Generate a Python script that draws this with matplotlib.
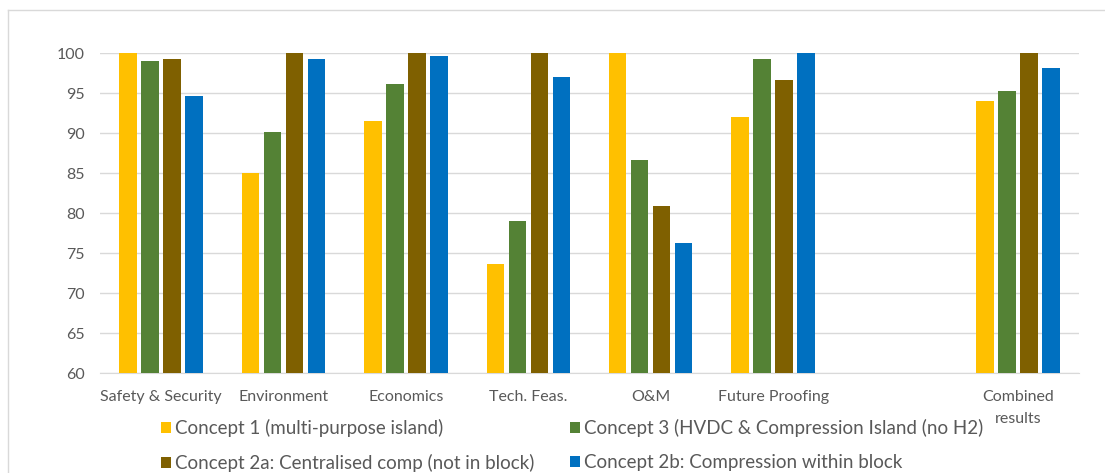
import matplotlib
matplotlib.use("Agg")
import matplotlib.pyplot as plt
import numpy as np

categories = ["Safety & Security", "Environment", "Economics", "Tech. Feas.",
              "O&M", "Future Proofing", "", "Combined\nresults"]

series_names = [
    "Concept 1 (multi-purpose island)",
    "Concept 3 (HVDC & Compression Island (no H2)",
    "Concept 2a: Centralised comp (not in block)",
    "Concept 2b: Compression within block",
]

concept1 = [100.0, 85.0, 91.5, 73.6, 100.0, 92.0, np.nan, 94.0]
concept3 = [99.0, 90.1, 96.1, 79.0, 86.6, 99.3, np.nan, 95.3]
concept2a = [99.3, 100.0, 100.0, 100.0, 80.9, 96.6, np.nan, 100.0]
concept2b = [94.6, 99.2, 99.6, 97.0, 76.3, 100.0, np.nan, 98.1]

colors = ["#FFC000", "#548235", "#7F6000", "#0070C0"]
yticks = [60, 65, 70, 75, 80, 85, 90, 95, 100]

plt.rcParams["font.family"] = ["Lato", "DejaVu Sans"]
text_gray = "#595959"
grid_gray = "#D9D9D9"

W, H = 1105, 473
fig = plt.figure(figsize=(W / 100, H / 100), dpi=100)
ax = fig.add_axes([100 / W, 1 - 373 / H, (1079 - 100) / W, (373 - 53) / H])

x = np.arange(len(categories))
step = 0.18
width = 0.143
offsets = (np.arange(4) - 1.5) * step
series = [concept1, concept3, concept2a, concept2b]
handles = []
for vals, off, col, name in zip(series, offsets, colors, series_names):
    v = np.array(vals, dtype=float)
    h = ax.bar(x + off, v - 60, width=width, bottom=60, color=col,
               label=name, zorder=3)
    handles.append(h)

ax.set_xlim(-0.5, len(categories) - 0.5)
ax.set_ylim(60, 100)
ax.set_yticks(yticks)
ax.set_yticklabels([str(t) for t in yticks])
ax.set_xticks(x)
ax.set_xticklabels(categories, linespacing=1.75)
ax.tick_params(axis="both", length=0, colors=text_gray, labelsize=11.5)
ax.tick_params(axis="y", pad=11)
ax.tick_params(axis="x", pad=12)
ax.yaxis.grid(True, color=grid_gray, linewidth=1.0, zorder=0)
for s in ["top", "right", "left"]:
    ax.spines[s].set_visible(False)
ax.spines["bottom"].set_color(grid_gray)
ax.spines["bottom"].set_zorder(1)

# legend laid out in two columns, two rows
order = [0, 2, 1, 3]
leg = fig.legend([handles[i] for i in order], [series_names[i] for i in order],
                 ncol=2, loc="upper left", bbox_to_anchor=(161 / W, 1 - 419 / H),
                 frameon=False, fontsize=13.5, handlelength=0.55, handleheight=0.55,
                 handletextpad=0.2, columnspacing=1.9, labelspacing=0.9,
                 borderpad=0, borderaxespad=0)
for t in leg.get_texts():
    t.set_color(text_gray)

# chart frame lines
frame_col = "#D9D9D9"
fig.add_artist(plt.Line2D([8 / W, 8 / W], [0, 1 - 10 / H], transform=fig.transFigure,
                          color=frame_col, linewidth=1))
fig.add_artist(plt.Line2D([8 / W, 1], [1 - 10 / H, 1 - 10 / H], transform=fig.transFigure,
                          color=frame_col, linewidth=1))

fig.savefig("out.png", dpi=100)
